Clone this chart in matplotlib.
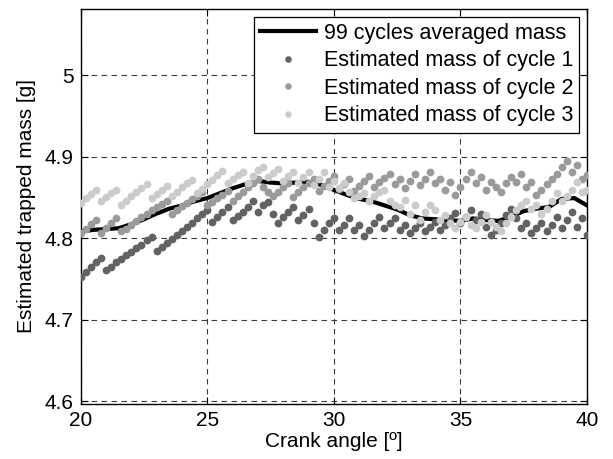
import matplotlib
matplotlib.use("Agg")
import matplotlib.pyplot as plt
import numpy as np

plt.rcParams['font.family'] = ['Liberation Sans', 'DejaVu Sans']

# Crank angle grid of the per-cycle estimates (0.2 deg resolution)
angle = np.arange(101) * 0.2 + 20.0

# 99-cycle averaged trapped mass, sampled every 0.5 deg
avg_angle = np.arange(41) * 0.5 + 20.0
avg_mass = [4.808, 4.810, 4.811, 4.812, 4.817, 4.823, 4.830, 4.836, 4.840, 4.845,
            4.849, 4.855, 4.861, 4.866, 4.870, 4.868, 4.867, 4.868, 4.869, 4.865,
            4.859, 4.853, 4.848, 4.845, 4.840, 4.835, 4.828, 4.824, 4.823, 4.822,
            4.821, 4.824, 4.822, 4.821, 4.826, 4.833, 4.836, 4.838, 4.848, 4.849,
            4.840]

cycle1 = [4.752, 4.758, 4.764, 4.770, 4.776, 4.761, 4.765, 4.770, 4.774, 4.779,
          4.783, 4.788, 4.792, 4.797, 4.801, 4.784, 4.789, 4.794, 4.799, 4.804,
          4.809, 4.814, 4.819, 4.824, 4.829, 4.834, 4.820, 4.826, 4.832, 4.838,
          4.822, 4.827, 4.832, 4.838, 4.845, 4.832, 4.840, 4.844, 4.830, 4.818,
          4.826, 4.832, 4.838, 4.822, 4.828, 4.835, 4.818, 4.801, 4.810, 4.818,
          4.824, 4.810, 4.816, 4.824, 4.810, 4.816, 4.802, 4.810, 4.818, 4.826,
          4.812, 4.818, 4.824, 4.810, 4.816, 4.806, 4.812, 4.818, 4.808, 4.814,
          4.820, 4.810, 4.816, 4.824, 4.831, 4.818, 4.826, 4.834, 4.822, 4.830,
          4.814, 4.804, 4.810, 4.818, 4.828, 4.836, 4.824, 4.812, 4.818, 4.806,
          4.812, 4.818, 4.808, 4.816, 4.826, 4.812, 4.822, 4.832, 4.814, 4.824,
          4.804]

cycle2 = [4.806, 4.811, 4.817, 4.822, 4.806, 4.812, 4.818, 4.824, 4.808, 4.811,
          4.816, 4.821, 4.826, 4.830, 4.834, 4.838, 4.842, 4.846, 4.830, 4.834,
          4.839, 4.843, 4.848, 4.852, 4.856, 4.840, 4.844, 4.849, 4.853, 4.858,
          4.846, 4.851, 4.856, 4.862, 4.868, 4.872, 4.862, 4.857, 4.851, 4.857,
          4.862, 4.868, 4.850, 4.856, 4.862, 4.868, 4.873, 4.858, 4.864, 4.870,
          4.876, 4.860, 4.866, 4.872, 4.858, 4.864, 4.870, 4.876, 4.862, 4.869,
          4.874, 4.879, 4.866, 4.872, 4.861, 4.870, 4.879, 4.865, 4.873, 4.881,
          4.867, 4.873, 4.859, 4.869, 4.853, 4.863, 4.873, 4.881, 4.867, 4.875,
          4.859, 4.869, 4.863, 4.857, 4.867, 4.875, 4.869, 4.879, 4.863, 4.869,
          4.853, 4.859, 4.866, 4.873, 4.878, 4.887, 4.894, 4.881, 4.890, 4.873,
          4.877]

cycle3 = [4.843, 4.849, 4.854, 4.859, 4.845, 4.850, 4.855, 4.859, 4.840, 4.845,
          4.851, 4.856, 4.861, 4.866, 4.849, 4.854, 4.859, 4.864, 4.852, 4.857,
          4.862, 4.867, 4.871, 4.855, 4.860, 4.866, 4.871, 4.877, 4.882, 4.867,
          4.872, 4.877, 4.881, 4.867, 4.876, 4.883, 4.887, 4.875, 4.880, 4.885,
          4.870, 4.876, 4.881, 4.868, 4.875, 4.881, 4.865, 4.872, 4.881, 4.863,
          4.870, 4.861, 4.867, 4.856, 4.849, 4.852, 4.855, 4.845, 4.851, 4.857,
          4.859, 4.845, 4.840, 4.838, 4.847, 4.830, 4.840, 4.822, 4.832, 4.840,
          4.834, 4.822, 4.828, 4.818, 4.812, 4.820, 4.826, 4.816, 4.812, 4.820,
          4.828, 4.820, 4.814, 4.808, 4.818, 4.826, 4.834, 4.840, 4.845, 4.836,
          4.840, 4.830, 4.836, 4.845, 4.855, 4.845, 4.851, 4.859, 4.869, 4.857,
          4.859]

x_ticks = [20, 25, 30, 35, 40]
y_ticks = [4.6, 4.7, 4.8, 4.9, 5.0]
y_tick_labels = ["4.6", "4.7", "4.8", "4.9", "5"]

labels = ["99 cycles averaged mass",
          "Estimated mass of cycle 1",
          "Estimated mass of cycle 2",
          "Estimated mass of cycle 3"]
cycle_colors = ["#626262", "#9a9a9a", "#cbcbcb"]

fig = plt.figure(figsize=(6.13, 4.59), dpi=100)
ax = fig.add_axes([0.1317, 0.1205, 0.8259, 0.8599])

ax.plot(avg_angle, avg_mass, color="black", lw=3.0, label=labels[0], zorder=3)
for vals, col, lab in zip([cycle1, cycle2, cycle3], cycle_colors, labels[1:]):
    ax.plot(angle, vals, linestyle="none", marker="o", ms=5.6,
            mfc=col, mec="none", label=lab, zorder=4)

ax.set_xlim(20, 40)
ax.set_ylim(4.5967, 5.081)
ax.set_xticks(x_ticks)
ax.set_yticks(y_ticks)
ax.set_yticklabels(y_tick_labels)

ax.grid(True, color="#3c3c3c", linestyle=(0, (5, 4)), lw=0.8)
ax.set_axisbelow(True)

ax.tick_params(direction="in", length=5, width=0.8, labelsize=15,
               top=True, right=True, pad=5)
for s in ax.spines.values():
    s.set_linewidth(1.0)
    s.set_color("black")

ax.set_xlabel("Crank angle [º]", fontsize=15, labelpad=2)
ax.set_ylabel("Estimated trapped mass [g]", fontsize=15, labelpad=6)

leg = ax.legend(loc="upper right", fontsize=15.5, frameon=True, fancybox=False,
                edgecolor="black", framealpha=1.0, borderaxespad=0.35,
                handlelength=2.6, handletextpad=0.35, labelspacing=0.3,
                borderpad=0.3, numpoints=1, markerscale=0.85)
leg.get_frame().set_linewidth(0.9)

fig.savefig("out.png", dpi=100)
